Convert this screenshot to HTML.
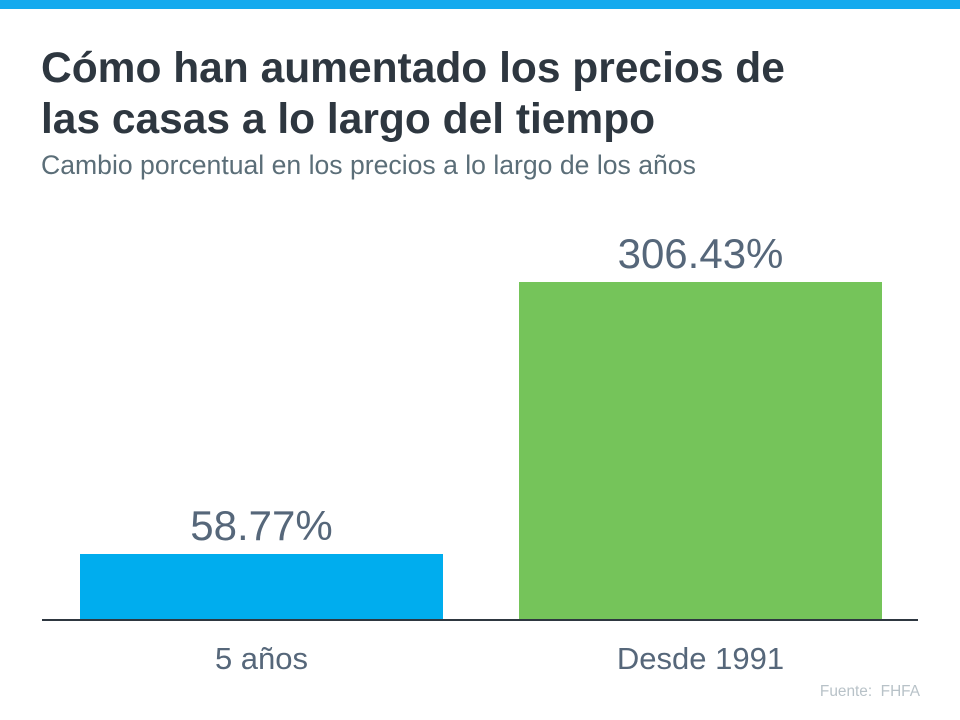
<!DOCTYPE html>
<html><head><meta charset="utf-8"><style>
body{margin:0;width:960px;height:720px;background:#fff;position:relative;overflow:hidden;font-family:"Liberation Sans",Arial,sans-serif}
.a{position:absolute;white-space:nowrap}
</style></head><body>
<div class="a" style="left:0;top:0;width:960px;height:9px;background:#15aaee"></div>
<div class="a" style="left:41px;top:43px;font-size:42.5px;font-weight:bold;color:#2e3740;line-height:51px">Cómo han aumentado los precios de<br>las casas a lo largo del tiempo</div>
<div class="a" style="left:41px;top:150px;font-size:26.6px;color:#5b6e78">Cambio porcentual en los precios a lo largo de los años</div>
<div class="a" style="left:80px;top:554px;width:363px;height:66px;background:#00adee"></div>
<div class="a" style="left:519px;top:282px;width:363px;height:338px;background:#75c45a"></div>
<div class="a" style="left:42px;top:619px;width:876px;height:2px;background:#2e3740"></div>
<div class="a" style="left:80px;width:363px;top:502px;text-align:center;font-size:42px;color:#56677a">58.77%</div>
<div class="a" style="left:519px;width:363px;top:230px;text-align:center;font-size:42px;color:#56677a">306.43%</div>
<div class="a" style="left:80px;width:363px;top:641px;text-align:center;font-size:31px;color:#56677a">5 años</div>
<div class="a" style="left:519px;width:363px;top:641px;text-align:center;font-size:31px;color:#56677a">Desde 1991</div>
<div class="a" style="right:40px;top:683px;font-size:15.4px;color:#b8c2c8">Fuente:&nbsp; FHFA</div>
</body></html>
